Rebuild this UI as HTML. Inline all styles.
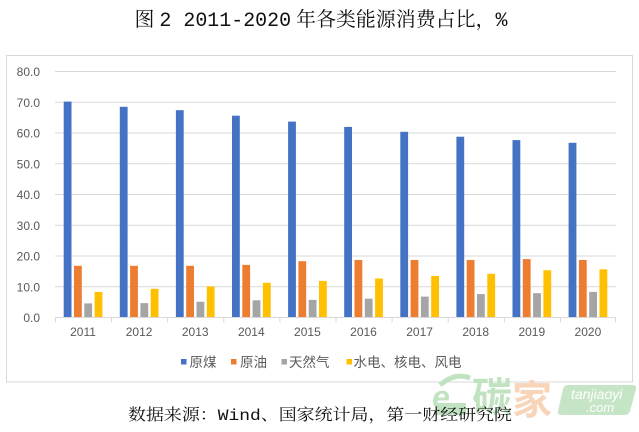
<!DOCTYPE html>
<html>
<head>
<meta charset="utf-8">
<style>
html,body{margin:0;padding:0;background:#fff;}
svg{display:block;}
</style>
</head>
<body>
<svg width="639" height="432" viewBox="0 0 639 432" xmlns="http://www.w3.org/2000/svg">
  <rect x="0" y="0" width="639" height="432" fill="#ffffff"/>
  <!-- Title -->
  <text x="134.5" y="26" font-family="'Liberation Serif','Noto Serif CJK SC',serif" font-size="20" fill="#111" textLength="373" lengthAdjust="spacingAndGlyphs">图 <tspan font-family="'Liberation Mono',monospace">2 2011-2020</tspan> 年各类能源消费占比，<tspan font-family="'Liberation Mono',monospace">%</tspan></text>

  <!-- chart border -->
  <rect x="6.5" y="55.5" width="626" height="326.5" fill="#fff" stroke="#d9d9d9" stroke-width="1"/>

  <!-- gridlines -->
  <g stroke="#d9d9d9" stroke-width="1">
    <line x1="55" x2="616" y1="71.5" y2="71.5"/>
    <line x1="55" x2="616" y1="102.3" y2="102.3"/>
    <line x1="55" x2="616" y1="133" y2="133"/>
    <line x1="55" x2="616" y1="163.8" y2="163.8"/>
    <line x1="55" x2="616" y1="194.5" y2="194.5"/>
    <line x1="55" x2="616" y1="225.3" y2="225.3"/>
    <line x1="55" x2="616" y1="256" y2="256"/>
    <line x1="55" x2="616" y1="286.8" y2="286.8"/>
  </g>

  <!-- y labels -->
  <g font-family="'Liberation Sans',sans-serif" font-size="12" fill="#595959" text-anchor="end">
    <text x="40" y="76">80.0</text>
    <text x="40" y="106.8">70.0</text>
    <text x="40" y="137.5">60.0</text>
    <text x="40" y="168.3">50.0</text>
    <text x="40" y="199">40.0</text>
    <text x="40" y="229.8">30.0</text>
    <text x="40" y="260.5">20.0</text>
    <text x="40" y="291.3">10.0</text>
    <text x="40" y="322">0.0</text>
  </g>

  <!-- bars -->
  <g>
    <!-- 2011 -->
    <rect x="63.7" y="101.6" width="7.8" height="215.9" fill="#4472C4"/>
    <rect x="74.0" y="265.8" width="7.8" height="51.7" fill="#ED7D31"/>
    <rect x="84.3" y="303.4" width="7.8" height="14.1" fill="#A5A5A5"/>
    <rect x="94.6" y="291.9" width="7.8" height="25.6" fill="#FFC000"/>
    <!-- 2012 -->
    <rect x="119.8" y="106.8" width="7.8" height="210.7" fill="#4472C4"/>
    <rect x="130.1" y="265.8" width="7.8" height="51.7" fill="#ED7D31"/>
    <rect x="140.4" y="303.1" width="7.8" height="14.4" fill="#A5A5A5"/>
    <rect x="150.7" y="288.8" width="7.8" height="28.7" fill="#FFC000"/>
    <!-- 2013 -->
    <rect x="175.9" y="110.2" width="7.8" height="207.3" fill="#4472C4"/>
    <rect x="186.2" y="265.8" width="7.8" height="51.7" fill="#ED7D31"/>
    <rect x="196.5" y="301.8" width="7.8" height="15.7" fill="#A5A5A5"/>
    <rect x="206.8" y="286.4" width="7.8" height="31.1" fill="#FFC000"/>
    <!-- 2014 -->
    <rect x="232.0" y="115.7" width="7.8" height="201.8" fill="#4472C4"/>
    <rect x="242.3" y="264.9" width="7.8" height="52.6" fill="#ED7D31"/>
    <rect x="252.6" y="300.3" width="7.8" height="17.2" fill="#A5A5A5"/>
    <rect x="262.9" y="282.8" width="7.8" height="34.7" fill="#FFC000"/>
    <!-- 2015 -->
    <rect x="288.1" y="121.6" width="7.8" height="195.9" fill="#4472C4"/>
    <rect x="298.4" y="261.2" width="7.8" height="56.3" fill="#ED7D31"/>
    <rect x="308.7" y="299.9" width="7.8" height="17.6" fill="#A5A5A5"/>
    <rect x="319.0" y="280.9" width="7.8" height="36.6" fill="#FFC000"/>
    <!-- 2016 -->
    <rect x="344.2" y="126.9" width="7.8" height="190.6" fill="#4472C4"/>
    <rect x="354.5" y="260.0" width="7.8" height="57.5" fill="#ED7D31"/>
    <rect x="364.8" y="298.7" width="7.8" height="18.8" fill="#A5A5A5"/>
    <rect x="375.1" y="278.5" width="7.8" height="39.0" fill="#FFC000"/>
    <!-- 2017 -->
    <rect x="400.3" y="131.8" width="7.8" height="185.7" fill="#4472C4"/>
    <rect x="410.6" y="260.0" width="7.8" height="57.5" fill="#ED7D31"/>
    <rect x="420.9" y="296.6" width="7.8" height="20.9" fill="#A5A5A5"/>
    <rect x="431.2" y="276.0" width="7.8" height="41.5" fill="#FFC000"/>
    <!-- 2018 -->
    <rect x="456.4" y="136.7" width="7.8" height="180.8" fill="#4472C4"/>
    <rect x="466.7" y="260.0" width="7.8" height="57.5" fill="#ED7D31"/>
    <rect x="477.0" y="294.1" width="7.8" height="23.4" fill="#A5A5A5"/>
    <rect x="487.3" y="273.8" width="7.8" height="43.7" fill="#FFC000"/>
    <!-- 2019 -->
    <rect x="512.5" y="140.1" width="7.8" height="177.4" fill="#4472C4"/>
    <rect x="522.8" y="259.1" width="7.8" height="58.4" fill="#ED7D31"/>
    <rect x="533.1" y="293.2" width="7.8" height="24.3" fill="#A5A5A5"/>
    <rect x="543.4" y="270.2" width="7.8" height="47.3" fill="#FFC000"/>
    <!-- 2020 -->
    <rect x="568.6" y="142.8" width="7.8" height="174.7" fill="#4472C4"/>
    <rect x="578.9" y="260.0" width="7.8" height="57.5" fill="#ED7D31"/>
    <rect x="589.2" y="291.9" width="7.8" height="25.6" fill="#A5A5A5"/>
    <rect x="599.5" y="269.3" width="7.8" height="48.2" fill="#FFC000"/>
  </g>

  <!-- x axis -->
  <g stroke="#d9d9d9" stroke-width="1">
    <line x1="55" x2="616" y1="317.5" y2="317.5"/>
    <line x1="55.5" x2="55.5" y1="317.5" y2="322.5"/>
    <line x1="111.6" x2="111.6" y1="317.5" y2="322.5"/>
    <line x1="167.7" x2="167.7" y1="317.5" y2="322.5"/>
    <line x1="223.8" x2="223.8" y1="317.5" y2="322.5"/>
    <line x1="279.9" x2="279.9" y1="317.5" y2="322.5"/>
    <line x1="336" x2="336" y1="317.5" y2="322.5"/>
    <line x1="392.1" x2="392.1" y1="317.5" y2="322.5"/>
    <line x1="448.2" x2="448.2" y1="317.5" y2="322.5"/>
    <line x1="504.3" x2="504.3" y1="317.5" y2="322.5"/>
    <line x1="560.4" x2="560.4" y1="317.5" y2="322.5"/>
    <line x1="615.5" x2="615.5" y1="317.5" y2="322.5"/>
  </g>
  <g font-family="'Liberation Sans',sans-serif" font-size="12" fill="#595959" text-anchor="middle">
    <text x="83" y="336">2011</text>
    <text x="139.1" y="336">2012</text>
    <text x="195.2" y="336">2013</text>
    <text x="251.3" y="336">2014</text>
    <text x="307.4" y="336">2015</text>
    <text x="363.5" y="336">2016</text>
    <text x="419.6" y="336">2017</text>
    <text x="475.7" y="336">2018</text>
    <text x="531.8" y="336">2019</text>
    <text x="587.9" y="336">2020</text>
  </g>

  <!-- legend -->
  <rect x="181" y="359" width="5.5" height="5.5" fill="#4472C4"/>
  <rect x="231" y="359" width="5.5" height="5.5" fill="#ED7D31"/>
  <rect x="281.5" y="359" width="5.5" height="5.5" fill="#A5A5A5"/>
  <rect x="346.5" y="359" width="5.5" height="5.5" fill="#FFC000"/>
  <g font-family="'Liberation Sans','Noto Sans CJK SC',sans-serif" font-size="13.5" fill="#595959">
    <text x="189.5" y="367">原煤</text>
    <text x="240" y="367">原油</text>
    <text x="289" y="367">天然气</text>
    <text x="353.5" y="367" textLength="108" lengthAdjust="spacingAndGlyphs">水电、核电、风电</text>
  </g>

  <!-- watermark -->
  <g opacity="0.95">
    <path d="M568,385 L632,385 Q637,385 636,389 L630,411 Q629,415 624,415 L562,415 Q557,415 558,411 L563,389 Q564,385 568,385 Z" fill="#c4e4c4"/>
    <text x="571" y="399" font-family="'Liberation Sans',sans-serif" font-style="italic" font-size="14" fill="#ffffff">tanjiaoyi</text>
    <text x="586" y="412" font-family="'Liberation Sans',sans-serif" font-style="italic" font-size="13" fill="#ffffff">.com</text>
    <text x="472" y="411" font-family="'Noto Sans CJK SC',sans-serif" font-weight="bold" font-size="40" fill="#bfe2bf">碳</text>
    <text x="512" y="414" font-family="'Noto Sans CJK SC',sans-serif" font-weight="bold" font-size="40" fill="#f8d2b6">家</text>
    <path d="M440,385 Q455,372 470,378" stroke="#bfe2bf" stroke-width="5" fill="none"/>
    <text x="432" y="408" font-family="'Liberation Sans',sans-serif" font-weight="bold" font-style="italic" font-size="32" fill="#bfe2bf">e</text>
    <rect x="436" y="403" width="30" height="12" fill="#bfe2bf"/>
  </g>

  <!-- caption -->
  <text x="128" y="420" font-family="'Liberation Serif','Noto Serif CJK SC',serif" font-size="16" fill="#111" textLength="384" lengthAdjust="spacingAndGlyphs">数据来源：<tspan font-family="'Liberation Mono',monospace">Wind</tspan>、国家统计局，第一财经研究院</text>
</svg>
</body>
</html>
